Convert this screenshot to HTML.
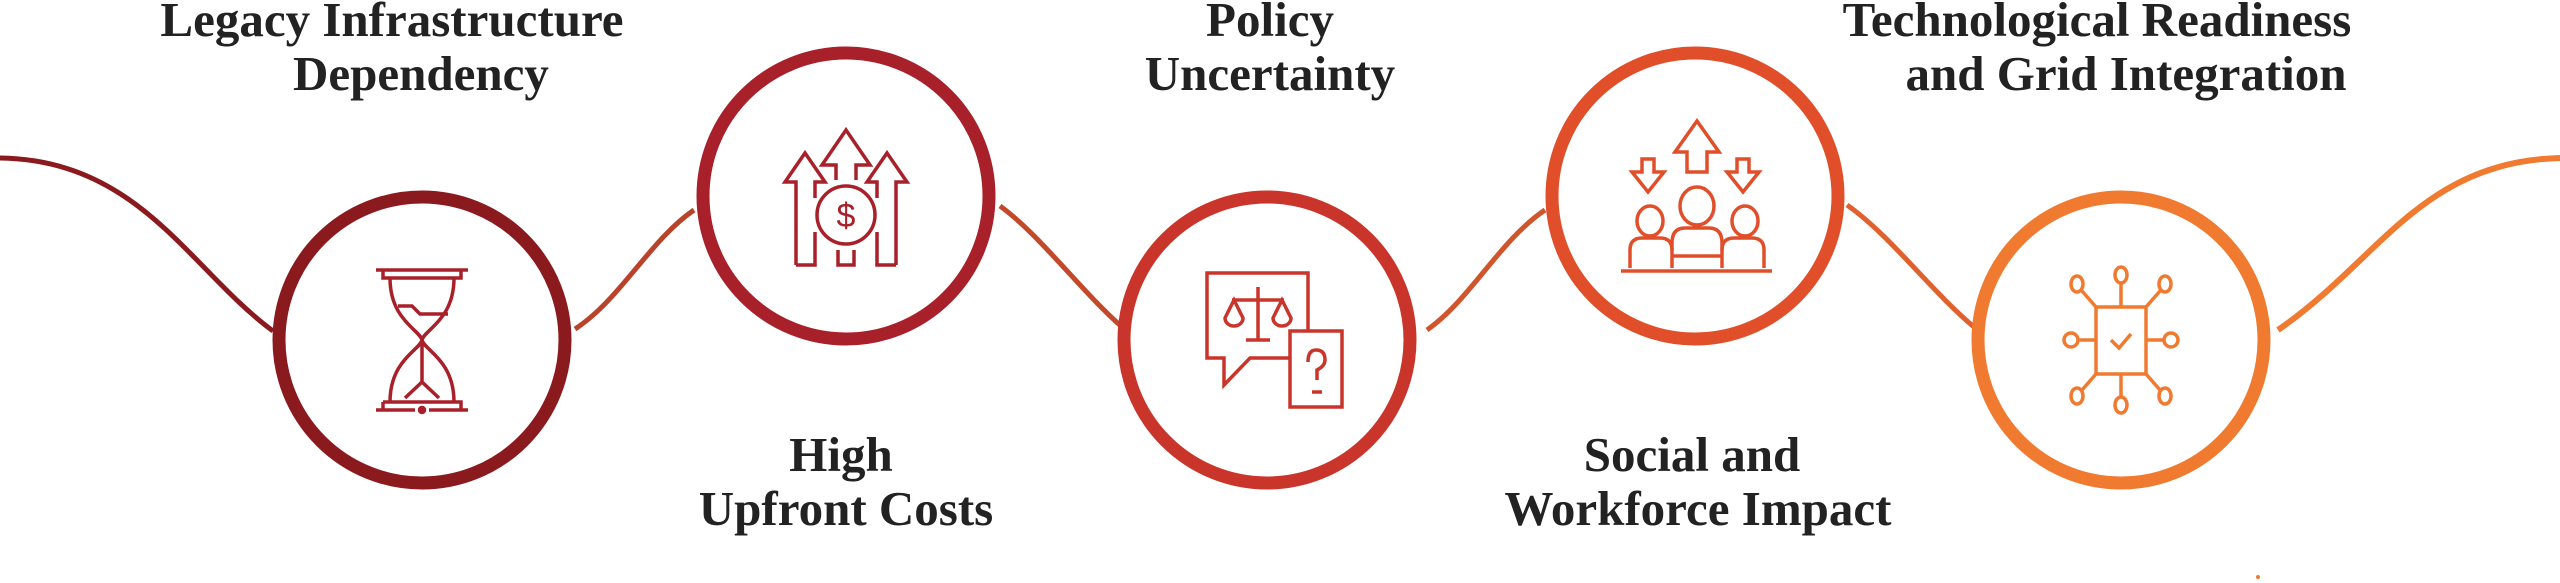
<!DOCTYPE html>
<html><head><meta charset="utf-8"><style>
html,body{margin:0;padding:0;background:#fff;}
svg{display:block}
text{font-family:"Liberation Serif",serif;font-weight:bold;font-size:49px;fill:#222;text-anchor:middle}
</style></head><body>
<svg width="2560" height="583" viewBox="0 0 2560 583" xmlns="http://www.w3.org/2000/svg">
<g fill="none" stroke-width="5">
<path d="M0,158 C140,160 190,270 273,331" stroke="#8b1a1e"/>
<path d="M575,329 C620,300 650,240 694,210" stroke="#b8432a"/>
<path d="M1000,206 C1040,235 1080,290 1122,327" stroke="#c24a2a"/>
<path d="M1427,330 C1470,300 1500,240 1545,210" stroke="#d0542c"/>
<path d="M1847,205 C1890,235 1930,290 1974,327" stroke="#e0612e"/>
<path d="M2278,330 C2380,260 2420,162 2560,158" stroke="#f07a30" stroke-width="6"/>
</g>
<g fill="#fff" stroke-width="13">
<circle cx="422" cy="340" r="143" stroke="#8b1a1e"/>
<circle cx="846" cy="196" r="143" stroke="#a8202a"/>
<circle cx="1267" cy="340" r="143" stroke="#c9352b"/>
<circle cx="1695" cy="196" r="143" stroke="#e04e2a"/>
<circle cx="2121" cy="340" r="143" stroke="#f07a30"/>
</g>
<g fill="none" stroke="#a8202a" stroke-width="3.5">
<path d="M376,270 H468 M383,270 V278 H461 V270"/>
<path d="M390,278 C390,320 420,330 422,340 C424,330 454,320 454,278"/>
<path d="M390,402 C390,360 420,350 422,340 C424,350 454,360 454,402"/>
<path d="M398,306 H412 L420,314 H448"/>
<path d="M422,340 V382 L405,398 M422,382 L439,398"/>
<path d="M383,402 H461 V410 M383,402 V410 M376,410 H415 M429,410 H468"/>
<circle cx="422" cy="410" r="2.5" fill="#a8202a"/>
</g>
<g fill="none" stroke="#a8202a" stroke-width="3.5">
<path d="M796,265 V182 H785 L805,153 L825,182 H815 V198"/>
<path d="M896,265 V182 H907 L887,153 L867,182 H877 V198"/>
<path d="M836,180 V165 H822 L846,130 L870,165 H856 V180"/>
<path d="M796,265 H815 V232 M877,232 V265 H896 M838,250 V265 H854 V250"/>
<circle cx="846" cy="215" r="29"/>
</g>
<text x="846" y="227" stroke="none" style="font-size:34px;fill:#a8202a;font-weight:normal;font-family:'Liberation Sans',sans-serif">$</text>
<g fill="none" stroke="#c9352b" stroke-width="3.5">
<path d="M1290,358 H1250 L1224,385 V358 H1207 V273 H1308 V331"/>
<rect x="1290" y="331" width="52" height="76"/>
<path d="M1258,287 V340 M1246,340 H1270 M1232,300 H1284"/>
<path d="M1234,300 L1225,318 A9,8 0 0 0 1243,318 Z M1282,300 L1273,318 A9,8 0 0 0 1291,318 Z"/>
<path d="M1308,362 Q1308,350 1316,350 Q1325,350 1325,360 Q1325,366 1317,370 V380 M1312,392 H1322"/>
</g>
<g fill="none" stroke="#e04e2a" stroke-width="3.5">
<path d="M1697,121 L1719,152 H1707 V172 H1687 V152 H1675 Z"/>
<path d="M1642,159 H1654 V172 H1664 L1648,192 L1632,172 H1642 Z"/>
<path d="M1737,159 H1749 V172 H1759 L1743,192 L1727,172 H1737 Z"/>
<ellipse cx="1697" cy="206" rx="17" ry="19"/>
<ellipse cx="1650" cy="221" rx="13" ry="15"/>
<ellipse cx="1745" cy="221" rx="13" ry="15"/>
<path d="M1672,268 V243 Q1672,228 1685,228 H1709 Q1722,228 1722,243 V268 M1672,256 H1722"/>
<path d="M1630,268 V250 Q1630,238 1642,238 H1660 Q1672,238 1672,250 M1722,250 Q1722,238 1734,238 H1752 Q1764,238 1764,250 V268"/>
<path d="M1621,271 H1772"/>
</g>
<g fill="none" stroke="#f07a30" stroke-width="3.5">
<rect x="2096" y="307" width="50" height="67"/>
<path d="M2111,340 L2119,348 L2131,334"/>
<path d="M2121,307 V282 M2121,374 V398 M2096,340 H2078 M2146,340 H2164"/>
<path d="M2096,307 L2082,291 M2146,307 L2160,291 M2096,374 L2082,390 M2146,374 L2160,390"/>
<ellipse cx="2121" cy="275" rx="6" ry="8"/><ellipse cx="2121" cy="405" rx="6" ry="8"/>
<ellipse cx="2071" cy="340" rx="7" ry="7"/><ellipse cx="2171" cy="340" rx="7" ry="7"/>
<ellipse cx="2077" cy="284" rx="6" ry="8"/><ellipse cx="2165" cy="284" rx="6" ry="8"/>
<ellipse cx="2077" cy="396" rx="6" ry="8"/><ellipse cx="2165" cy="396" rx="6" ry="8"/>
</g>
<circle cx="2258" cy="577" r="2" fill="#f07a30"/>
<text x="392" y="36">Legacy Infrastructure</text>
<text x="421" y="90">Dependency</text>
<text x="841" y="471">High</text>
<text x="846" y="525">Upfront Costs</text>
<text x="1270" y="36">Policy</text>
<text x="1270" y="90">Uncertainty</text>
<text x="1692" y="471">Social and</text>
<text x="1698" y="525">Workforce Impact</text>
<text x="2097" y="36">Technological Readiness</text>
<text x="2126" y="90">and Grid Integration</text>
</svg>
</body></html>
